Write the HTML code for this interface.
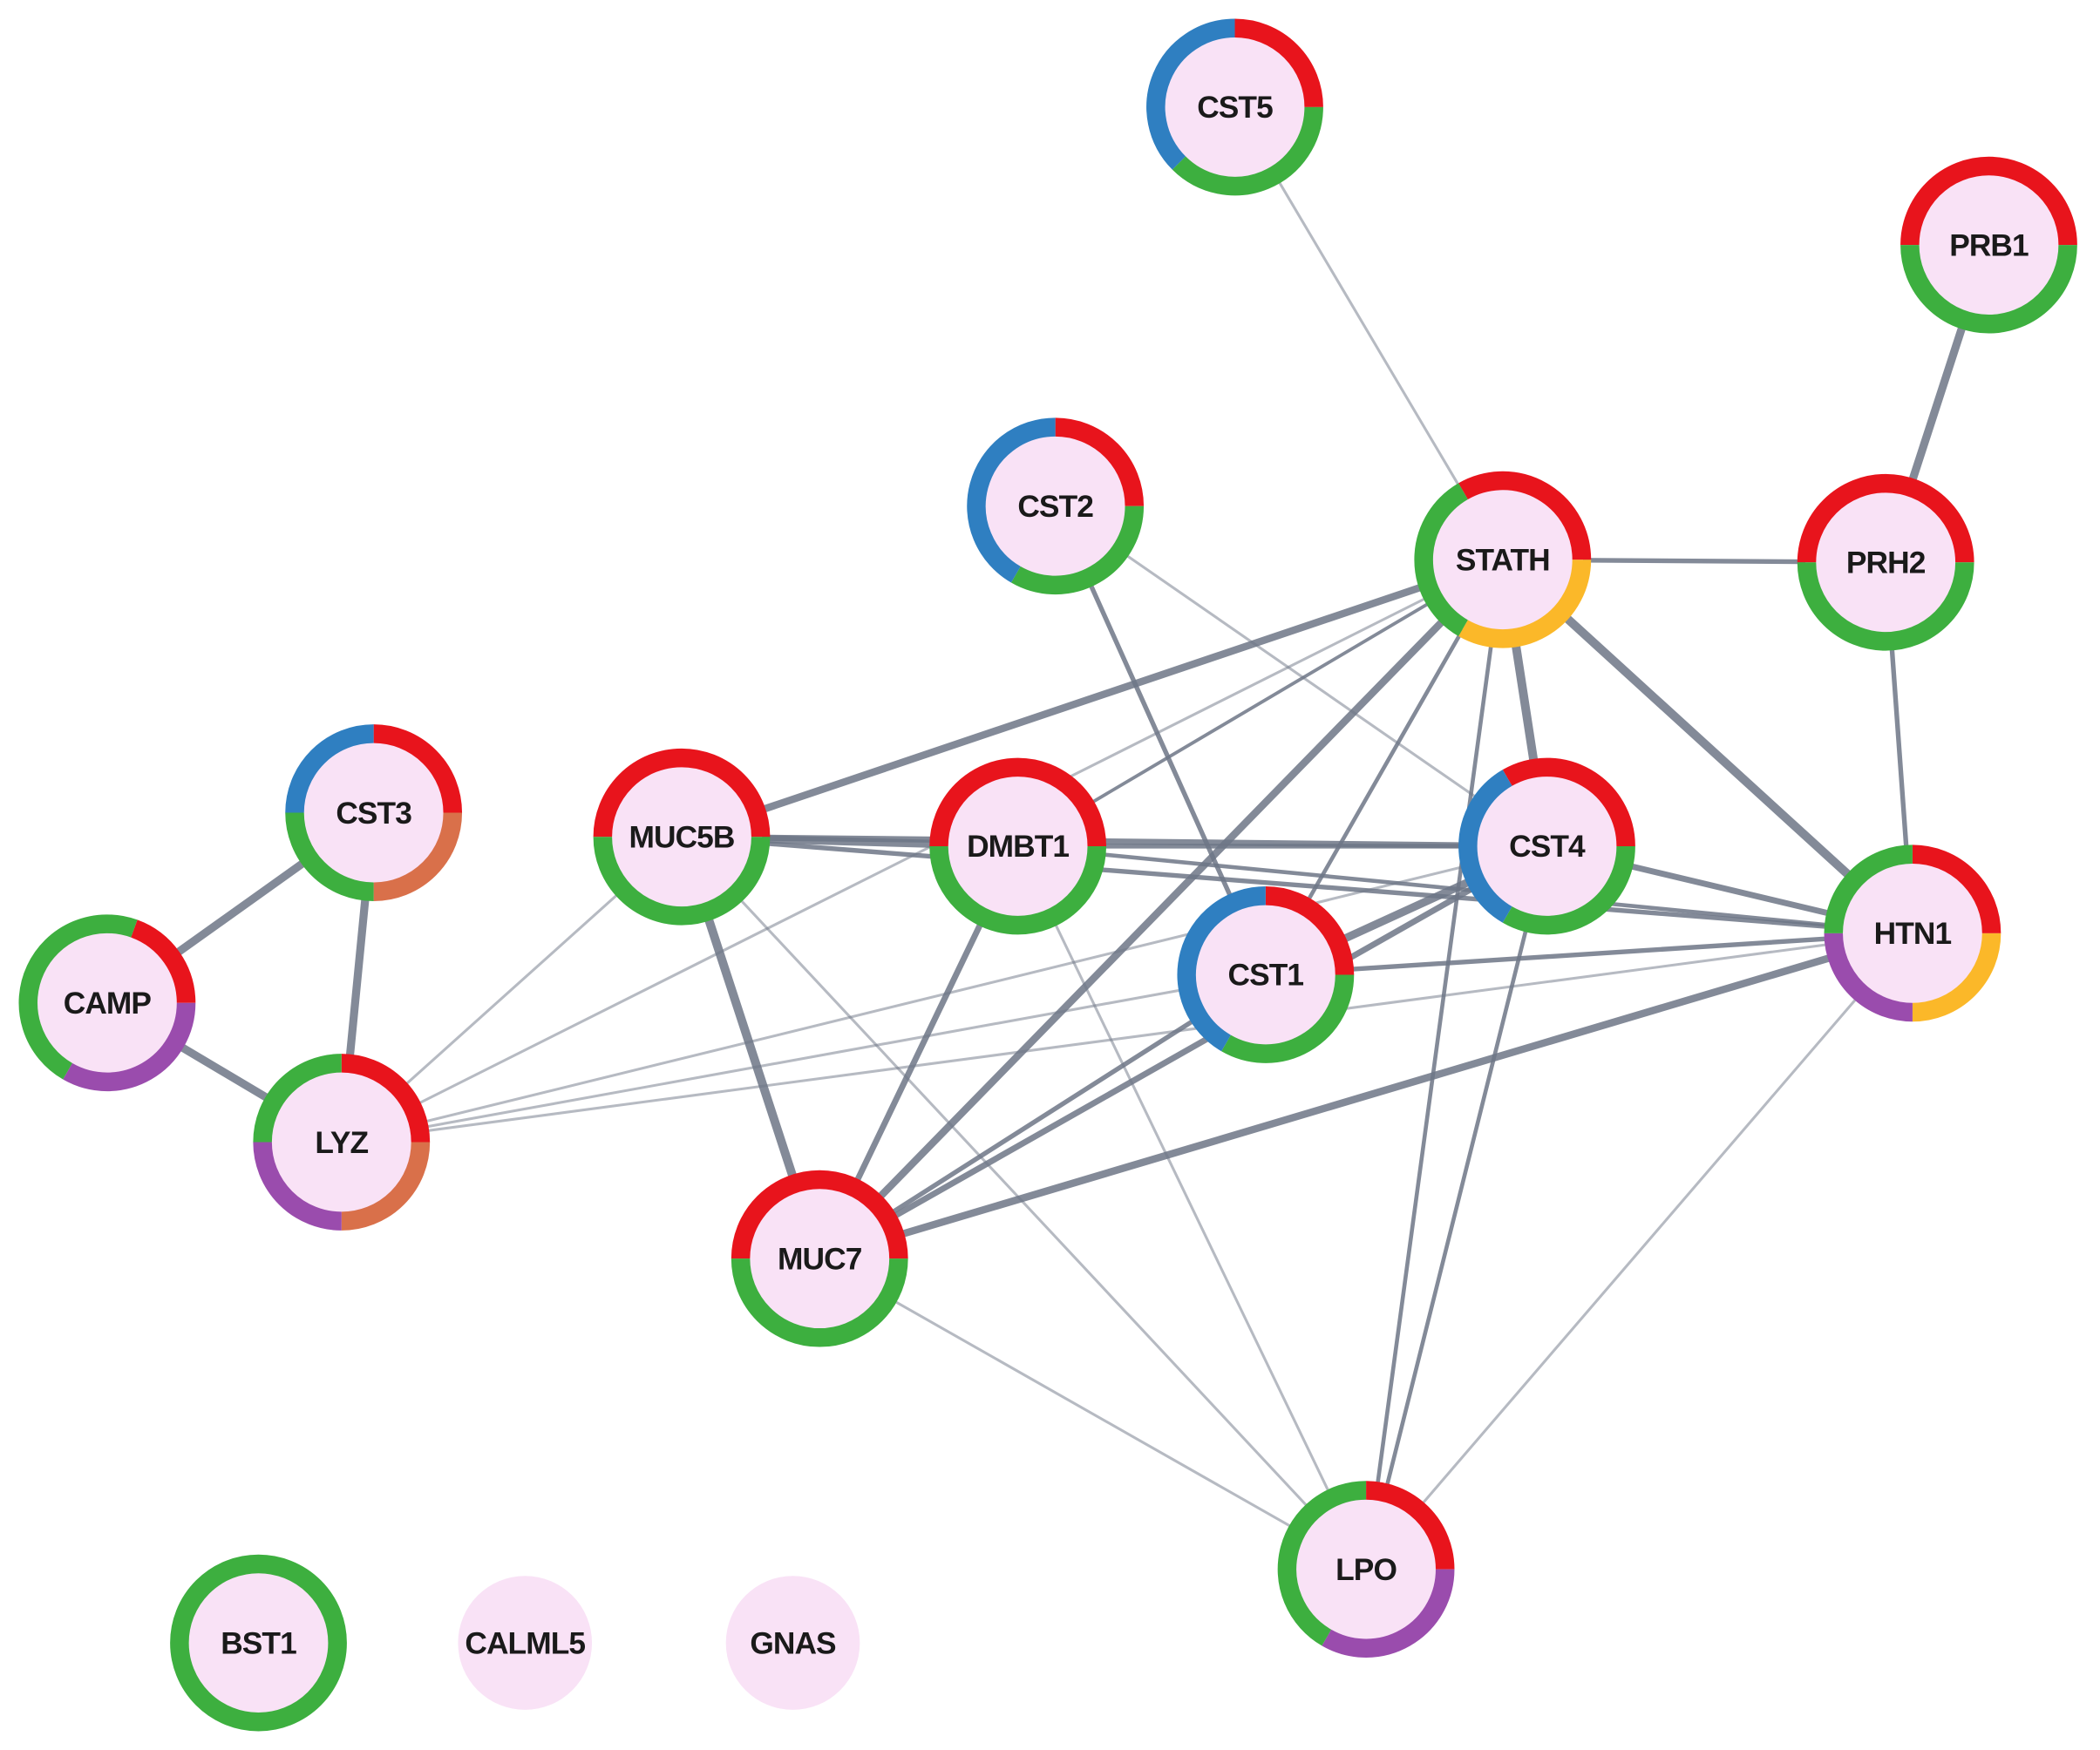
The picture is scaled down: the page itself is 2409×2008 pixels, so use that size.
<!DOCTYPE html>
<html><head><meta charset="utf-8"><style>
html,body{margin:0;padding:0;background:#fff;}
svg{display:block;}
text{font-family:"Liberation Sans",sans-serif;font-weight:bold;fill:#1a1a1a;letter-spacing:-0.6px;}
</style></head><body>
<svg id="s" width="2409" height="2008" viewBox="0 0 1568 1307" preserveAspectRatio="none" xmlns="http://www.w3.org/2000/svg">
<g id="edges" stroke="#6d7686" stroke-linecap="round" fill="none"></g>
<g id="nodes"></g>
</svg>
<script>
var R='#e8141c',G='#3daf3f',B='#2f7fc1',Y='#fbb829',P='#9a4cad',O='#d9704a';
var N={
CST5:[922,80,[[0,90,R],[90,225,G],[225,360,B]]],
PRB1:[1485,183,[[-90,90,R],[90,270,G]]],
CST2:[788,378,[[0,90,R],[90,210,G],[210,360,B]]],
STATH:[1122,418,[[-30,90,R],[90,210,Y],[210,330,G]]],
PRH2:[1408,420,[[-90,90,R],[90,270,G]]],
CST3:[279,607,[[0,90,R],[90,180,O],[180,270,G],[270,360,B]]],
MUC5B:[509,625,[[-90,90,R],[90,270,G]]],
DMBT1:[760,632,[[-90,90,R],[90,270,G]]],
CST4:[1155,632,[[-30,90,R],[90,210,G],[210,330,B]]],
HTN1:[1428,697,[[0,90,R],[90,180,Y],[180,270,P],[270,360,G]]],
CAMP:[80,749,[[20,90,R],[90,210,P],[210,380,G]]],
CST1:[945,728,[[0,90,R],[90,210,G],[210,360,B]]],
LYZ:[255,853,[[0,90,R],[90,180,O],[180,270,P],[270,360,G]]],
MUC7:[612,940,[[-90,90,R],[90,270,G]]],
LPO:[1020,1172,[[0,90,R],[90,210,P],[210,360,G]]],
BST1:[193,1227,[[0,360,G]]],
CALML5:[392,1227,null],
GNAS:[592,1227,null]
};
var E=[['CST5','STATH',2],['PRB1','PRH2',6],['STATH','PRH2',3.5],['PRH2','HTN1',3.5],['STATH','HTN1',6.5],['STATH','CST4',6.5],
['STATH','MUC5B',5.5],['STATH','DMBT1',2.5],['STATH','MUC7',5.5],['STATH','CST1',3],['STATH','LPO',3],['STATH','LYZ',2],
['CST2','CST4',2],['CST2','CST1',3.5],['CST3','CAMP',6],['CST3','LYZ',6],['CAMP','LYZ',6],
['MUC5B','DMBT1',6],['MUC5B','CST4',4.5],['MUC5B','HTN1',3.5],['MUC5B','MUC7',6.5],['MUC5B','LYZ',2],['MUC5B','LPO',2],
['DMBT1','CST4',3.5],['DMBT1','HTN1',3],['DMBT1','MUC7',4.5],['DMBT1','LPO',2],
['CST4','CST1',6],['CST4','HTN1',4.5],['CST4','LPO',3],['CST4','LYZ',2],['CST4','MUC7',4.5],
['CST1','HTN1',3.5],['CST1','LYZ',2],['CST1','MUC7',3.5],['HTN1','MUC7',5.5],['HTN1','LPO',2],['HTN1','LYZ',2],['MUC7','LPO',2]];
var ns='http://www.w3.org/2000/svg';
function el(t,a,p){var e=document.createElementNS(ns,t);for(var k in a)e.setAttribute(k,a[k]);p.appendChild(e);return e;}
var eg=document.getElementById('edges'),ng=document.getElementById('nodes');
E.forEach(function(e){var a=N[e[0]],b=N[e[1]];el('line',{x1:a[0],y1:a[1],x2:b[0],y2:b[1],'stroke-width':e[2],'stroke-opacity':e[2]<=2?0.5:0.85},eg);});
function pt(cx,cy,r,d){var t=(d-90)*Math.PI/180;return [cx+r*Math.cos(t),cy+r*Math.sin(t)];}
for(var k in N){var n=N[k],cx=n[0],cy=n[1];
 if(n[2]){el('circle',{cx:cx,cy:cy,r:60,fill:'#f9e2f6'},ng);
  n[2].forEach(function(s){var r=59;
   if(s[1]-s[0]>=360){el('circle',{cx:cx,cy:cy,r:r,fill:'none',stroke:s[2],'stroke-width':14},ng);return;}
   var p1=pt(cx,cy,r,s[0]),p2=pt(cx,cy,r,s[1]),l=(s[1]-s[0])>180?1:0;
   el('path',{d:'M'+p1[0]+' '+p1[1]+' A'+r+' '+r+' 0 '+l+' 1 '+p2[0]+' '+p2[1],fill:'none',stroke:s[2],'stroke-width':14},ng);});
 } else el('circle',{cx:cx,cy:cy,r:50,fill:'#f9e2f6'},ng);
 var t=el('text',{x:cx,y:cy+8,'text-anchor':'middle','font-size':23},ng);t.textContent=k;}
</script>
</body></html>
